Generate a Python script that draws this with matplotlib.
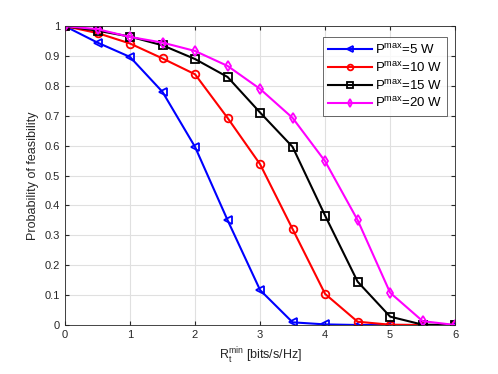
import matplotlib
matplotlib.use("Agg")
import matplotlib.pyplot as plt

rates = [0, 0.5, 1, 1.5, 2, 2.5, 3, 3.5, 4, 4.5, 5, 5.5, 6]
p5 = [1, 0.945, 0.897, 0.78, 0.596, 0.351, 0.117, 0.009, 0.002, 0, 0, 0, 0]
p10 = [1, 0.977, 0.942, 0.892, 0.839, 0.693, 0.538, 0.321, 0.104, 0.011, 0.001, 0, 0]
p15 = [1, 0.985, 0.965, 0.936, 0.89, 0.83, 0.711, 0.596, 0.366, 0.145, 0.028, 0.001, 0]
p20 = [1, 0.99, 0.964, 0.945, 0.917, 0.867, 0.79, 0.693, 0.548, 0.351, 0.108, 0.013, 0]
labels = ["P$^{\\mathrm{max}}$=5 W", "P$^{\\mathrm{max}}$=10 W",
          "P$^{\\mathrm{max}}$=15 W", "P$^{\\mathrm{max}}$=20 W"]
xticks = [0, 1, 2, 3, 4, 5, 6]
yticks = [0, 0.1, 0.2, 0.3, 0.4, 0.5, 0.6, 0.7, 0.8, 0.9, 1]

plt.rcParams['font.family'] = ['Liberation Sans', 'DejaVu Sans']
plt.rcParams['mathtext.fontset'] = 'custom'
plt.rcParams['mathtext.rm'] = 'Liberation Sans'

fig = plt.figure(figsize=(4.98, 3.74), dpi=100)
ax = fig.add_axes([0.1305, 0.131, 0.7835, 0.799])

series = [(p5, 'blue', '<'), (p10, 'red', 'o'), (p15, 'black', 's'), (p20, 'magenta', 'd')]
for (vals, col, mk), lab in zip(series, labels):
    ax.plot(rates, vals, color=col, marker=mk, markersize=5.5, markerfacecolor='none',
            markeredgewidth=1.3, linewidth=1.5, label=lab)

ax.set_xlim(0, 6)
ax.set_ylim(0, 1)
ax.set_xticks(xticks)
ax.set_xticklabels([str(v) for v in xticks])
ax.set_yticks(yticks)
ax.set_yticklabels(['0' if v == 0 else ('1' if v == 1 else f'{v:.1f}') for v in yticks])
ax.grid(True, color='#e0e0e0', linewidth=0.8)
ax.set_axisbelow(True)
ax.tick_params(direction='in', length=3, labelsize=8, colors='#262626', top=True, right=True)
for s in ax.spines.values():
    s.set_color('#262626')
    s.set_linewidth(0.6)

ax.set_xlabel("R$_{\\mathrm{t}}^{\\mathrm{min}}$ [bits/s/Hz]", fontsize=9, color='#262626')
ax.set_ylabel("Probability of feasibility", fontsize=9, color='#262626')

leg = ax.legend(loc='upper right', fontsize=9.5, handlelength=3.3, borderpad=0.4,
                labelspacing=0.3, handletextpad=0.2, fancybox=False, markerscale=0.75,
                bbox_to_anchor=(0.98, 0.963), borderaxespad=0)
leg.get_frame().set_edgecolor('#262626')
leg.get_frame().set_linewidth(0.6)

fig.savefig('out.png', dpi=100)
